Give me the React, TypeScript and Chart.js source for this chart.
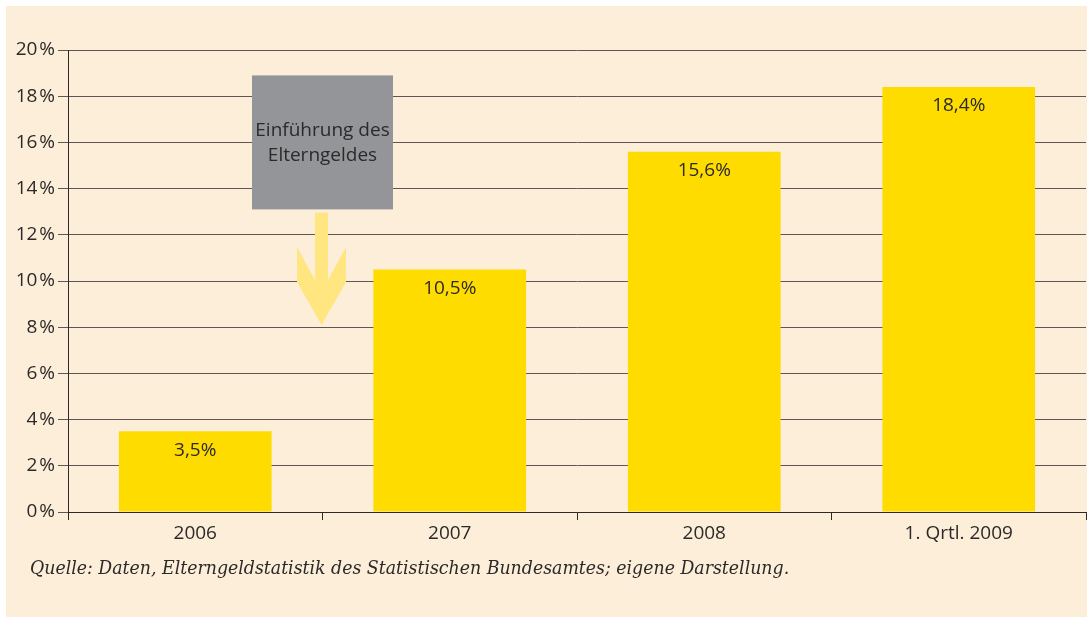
import React, { useEffect, useRef } from "react";
import { Chart, registerables } from "chart.js";

Chart.register(...registerables);

// ---- data ----
const categories: string[] = ["2006", "2007", "2008", "1. Qrtl. 2009"];
const shares: number[] = [3.5, 10.5, 15.6, 18.4];
const valueLabels: string[] = ["3,5%", "10,5%", "15,6%", "18,4%"];
const yMin = 0;
const yMax = 20;
const yStep = 2;
const calloutLines: string[] = ["Einführung des", "Elterngeldes"];
const sourceNote =
  "Quelle: Daten, Elterngeldstatistik des Statistischen Bundesamtes; eigene Darstellung.";

// ---- styles ----
const CREAM = "#FDEEDA";
const BAR = "#FFDC00";
const TEXT = "#2b2a29";
const GRID = "#5e5752";
const CALLOUT_BG = "#939598";
const ARROW = "#FFE680";
const FONT = "'Open Sans', 'Noto Sans', sans-serif";

export default function App() {
  const ref = useRef<HTMLCanvasElement | null>(null);

  useEffect(() => {
    document.body.style.margin = "0";
    const canvas = ref.current;
    if (!canvas) return;

    const barLabelPlugin = {
      id: "barLabels",
      afterDatasetsDraw(chart: any) {
        const ctx = chart.ctx;
        const meta = chart.getDatasetMeta(0);
        ctx.save();
        ctx.fillStyle = TEXT;
        ctx.font = `19px ${FONT}`;
        ctx.textAlign = "center";
        ctx.textBaseline = "middle";
        meta.data.forEach((bar: any, i: number) => {
          ctx.fillText(valueLabels[i], bar.x, bar.y + 19);
        });
        ctx.restore();
      },
    };

    const calloutPlugin = {
      id: "callout",
      afterDraw(chart: any) {
        const ctx = chart.ctx;
        const xs = chart.scales.x;
        const ys = chart.scales.y;
        const cx = xs.getPixelForValue(0.5);
        const catW = xs.getPixelForValue(1) - xs.getPixelForValue(0);
        const halfW = catW * 0.277;
        const top = ys.getPixelForValue(18.9);
        const bottom = ys.getPixelForValue(13.1);
        ctx.save();
        ctx.fillStyle = CALLOUT_BG;
        ctx.fillRect(cx - halfW, top, halfW * 2, bottom - top);
        ctx.fillStyle = TEXT;
        ctx.font = `19px ${FONT}`;
        ctx.textAlign = "center";
        ctx.textBaseline = "middle";
        const mid = (top + bottom) / 2;
        ctx.fillText(calloutLines[0], cx, mid - 12);
        ctx.fillText(calloutLines[1], cx, mid + 13);

        // arrow
        const ax = cx - 1;
        const shaftTop = ys.getPixelForValue(12.95);
        const wingTop = ys.getPixelForValue(11.47);
        const junction = ys.getPixelForValue(10.04);
        const wingBottom = ys.getPixelForValue(9.96);
        const tip = ys.getPixelForValue(8.1);
        ctx.fillStyle = ARROW;
        ctx.beginPath();
        ctx.moveTo(ax - 6.5, shaftTop);
        ctx.lineTo(ax + 6.5, shaftTop);
        ctx.lineTo(ax + 6.5, junction);
        ctx.lineTo(ax + 24.5, wingTop);
        ctx.lineTo(ax + 24.5, wingBottom);
        ctx.lineTo(ax, tip);
        ctx.lineTo(ax - 24.5, wingBottom);
        ctx.lineTo(ax - 24.5, wingTop);
        ctx.lineTo(ax - 6.5, junction);
        ctx.closePath();
        ctx.fill();
        ctx.restore();
      },
    };

    const chart = new Chart(canvas, {
      type: "bar",
      data: {
        labels: categories,
        datasets: [
          {
            data: shares,
            backgroundColor: BAR,
            borderWidth: 0,
            barPercentage: 0.6,
            categoryPercentage: 1,
          },
        ],
      },
      options: {
        responsive: false,
        animation: false,
        layout: { padding: { top: 50, right: 1, left: 0, bottom: 0 } },
        plugins: {
          legend: { display: false },
          tooltip: { enabled: false },
        },
        scales: {
          x: {
            offset: true,
            grid: {
              offset: true,
              drawOnChartArea: false,
              drawTicks: true,
              tickLength: 8,
              color: TEXT,
              lineWidth: 1,
            },
            border: { color: TEXT, width: 1 },
            ticks: {
              color: TEXT,
              font: { family: FONT, size: 19 },
              padding: 2,
            },
            afterFit(scale: any) {
              scale.height = 105;
            },
          },
          y: {
            min: yMin,
            max: yMax,
            grid: {
              color: GRID,
              lineWidth: 1,
              tickLength: 10,
              tickColor: GRID,
            },
            border: { color: TEXT, width: 1 },
            ticks: {
              stepSize: yStep,
              color: TEXT,
              font: { family: FONT, size: 19 },
              padding: 3,
              callback: (v: any) => `${v}\u200A%`,
            },
            afterFit(scale: any) {
              scale.width = 68;
            },
          },
        },
      },
      plugins: [barLabelPlugin, calloutPlugin],
    });

    return () => chart.destroy();
  }, []);

  return (
    <div
      style={{
        position: "relative",
        width: 1087,
        height: 617,
        background: "#ffffff",
        overflow: "hidden",
      }}
    >
      <div
        style={{
          position: "absolute",
          left: 6,
          top: 6,
          right: 0,
          bottom: 0,
          background: CREAM,
        }}
      />
      <canvas
        ref={ref}
        width={1087}
        height={617}
        style={{ position: "absolute", left: 0, top: 0, width: 1087, height: 617 }}
      />
      <div
        style={{
          position: "absolute",
          left: 30,
          top: 555,
          fontFamily: "'DejaVu Serif Condensed', 'DejaVu Serif', serif",
          fontStretch: "condensed",
          fontStyle: "italic",
          fontSize: 19.3,
          color: TEXT,
          whiteSpace: "nowrap",
          lineHeight: "26px",
        }}
      >
        {sourceNote}
      </div>
    </div>
  );
}
